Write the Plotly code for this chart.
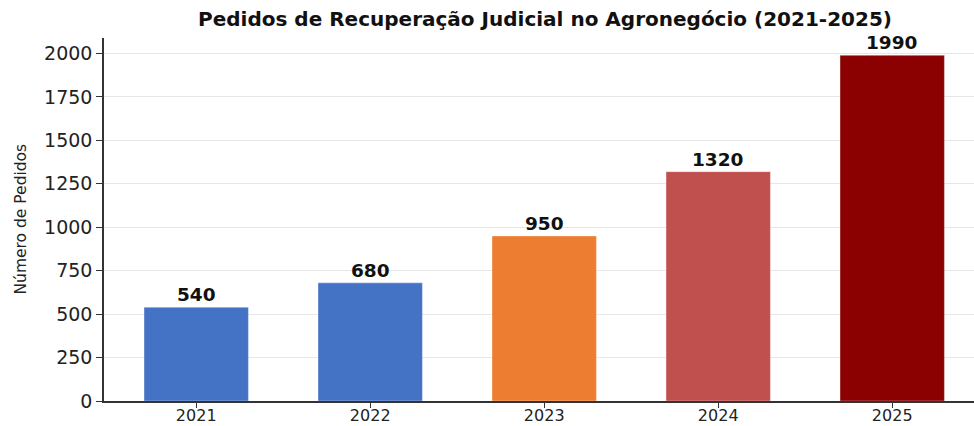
import plotly.graph_objects as go

years = ["2021", "2022", "2023", "2024", "2025"]
pedidos = [540, 680, 950, 1320, 1990]
bar_colors = ["#4472C4", "#4472C4", "#ED7D31", "#C0504D", "#8B0000"]
y_ticks = [0, 250, 500, 750, 1000, 1250, 1500, 1750, 2000]

title_text = "Pedidos de Recuperação Judicial no Agronegócio (2021-2025)"
y_title = "Número de Pedidos"

W, H = 974, 426
L, R, T, B = 104, 0, 38, 25

fig = go.Figure()
fig.add_trace(go.Bar(
    x=list(range(len(years))), y=pedidos, width=0.6,
    marker=dict(color=bar_colors, line=dict(color="rgba(255,255,255,0.35)", width=1)),
    showlegend=False, hoverinfo="skip",
))

for i, v in enumerate(pedidos):
    fig.add_annotation(x=i, y=v, text=f"<b>{v}</b>", showarrow=False,
                       yanchor="bottom", yshift=0,
                       font=dict(family="DejaVu Sans", size=18.5, color="#111"))

fig.add_annotation(xref="paper", yref="paper", x=(20 - L) / (W - L - R), y=0.5,
                   text=y_title, textangle=-90, showarrow=False,
                   xanchor="center", yanchor="middle",
                   font=dict(family="DejaVu Sans", size=15.5, color="#222"))

fig.update_layout(
    width=W, height=H,
    margin=dict(l=L, r=R, t=T, b=B, autoexpand=False),
    paper_bgcolor="white", plot_bgcolor="white",
    title=dict(text=f"<b>{title_text}</b>", xref="paper", x=(545 - L) / (W - L - R),
               xanchor="center", yref="container", y=1 - 19 / H, yanchor="middle",
               font=dict(family="DejaVu Sans", size=20, color="#111")),
    font=dict(family="DejaVu Sans", color="#222"),
)

fig.update_xaxes(
    range=[-0.53, 4.47], tickmode="array", tickvals=list(range(len(years))), ticktext=years,
    showgrid=False, zeroline=False, showline=True, linecolor="#333", linewidth=1.5,
    ticks="outside", ticklen=5, tickwidth=1.2, tickcolor="#333", ticklabelstandoff=-6,
    tickfont=dict(size=16, color="#222"), fixedrange=True,
)
fig.update_yaxes(
    range=[0, 2089.5], tickmode="array", tickvals=y_ticks,
    showgrid=True, gridcolor="rgba(200,200,200,0.45)", gridwidth=1,
    zeroline=False, showline=True, linecolor="#333", linewidth=1.5,
    ticks="outside", ticklen=6, tickwidth=1.2, tickcolor="#333",
    tickfont=dict(size=19, color="#222"), layer="above traces", fixedrange=True,
)

fig.write_html("out.html", config={"displayModeBar": False},
               post_script="document.body.style.margin='0';document.body.style.padding='0';")
